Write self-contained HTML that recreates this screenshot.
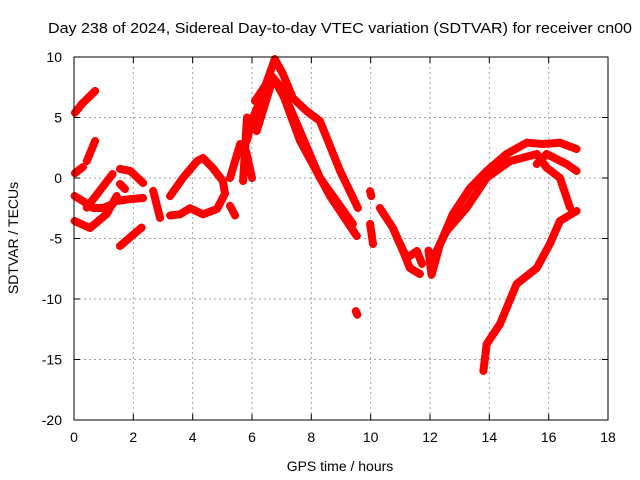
<!DOCTYPE html>
<html><head><meta charset="utf-8"><style>
body{margin:0;background:#fff}
svg{display:block;font-family:"Liberation Sans",sans-serif}
</style></head><body>
<svg id="chart" width="640" height="480">
<rect width="640" height="480" fill="#fff"/>
<text x="340" y="33" text-anchor="middle" font-size="15" textLength="584" lengthAdjust="spacingAndGlyphs">Day 238 of 2024, Sidereal Day-to-day VTEC variation (SDTVAR) for receiver cn00</text>
<g id="grid"></g>
<g id="marks"></g>
<rect x="74" y="57" width="534" height="363" fill="none" stroke="#000" stroke-width="1"/>
<g id="axes"></g>
<text x="340" y="471" text-anchor="middle" font-size="14">GPS time / hours</text>
<text transform="translate(18,238) rotate(-90)" text-anchor="middle" font-size="14">SDTVAR / TECUs</text>
</svg>
<script>
const xTicks=[0,2,4,6,8,10,12,14,16,18];
const yTicks=[10,5,0,-5,-10,-15,-20];
const tracks=[
[[0.03,5.4],[0.3,6.22]],
[[0.37,6.36],[0.71,7.19]],
[[0.43,1.4],[0.71,3.06]],
[[0.03,0.4],[0.3,0.9]],
[[0.43,-2.45],[1.3,0.33]],
[[0.02,-3.55],[0.54,-4.13],[1.1,-2.98],[1.44,-1.49]],
[[0.02,-1.49],[0.3,-1.9],[0.64,-2.48],[0.98,-2.48],[1.31,-2.15]],
[[1.55,-5.62],[2.28,-4.1]],
[[1.55,0.75],[1.9,0.58],[2.33,-0.41]],
[[1.55,-0.5],[1.72,-0.91]],
[[1.44,-1.9],[1.9,-1.74],[2.33,-1.65]],
[[2.67,-1.07],[2.9,-3.3]],
[[3.24,-1.5],[3.67,0],[4.15,1.4],[4.35,1.65],[4.68,0.83],[5.02,-0.25],[5.09,-1.3],[4.82,-2.56],[4.35,-3],[3.91,-2.5],[3.57,-3],[3.24,-3.1]],
[[5.26,0],[5.6,2.8]],
[[5.26,-2.3],[5.43,-3.1]],
[[5.7,-0.25],[5.83,5]],
[[5.8,2.2],[6,0]],
[[5.82,3.06],[6.03,4.96],[6.27,6.36],[6.77,9.83],[7.04,8.6],[7.38,6.6],[7.84,5.54],[8.29,4.71],[8.97,0.58],[9.57,-2.48]],
[[6.1,6.36],[6.66,8.43],[6.94,7.6],[7.62,3.06],[8.63,-1.49],[9.53,-4.79]],
[[6.16,3.88],[6.71,8.29],[7.28,5.81],[8.29,0.02],[9.4,-3.8]],
[[9.98,-1.1],[10.02,-1.5]],
[[9.98,-3.8],[10.08,-5.45]],
[[10.31,-2.48],[10.75,-4.13],[11.09,-6.03],[11.32,-7.44],[11.66,-7.93]],
[[10.89,-4.96],[11.22,-6.61],[11.56,-6.03],[11.73,-7.1]],
[[9.5,-11.0],[9.55,-11.3]],
[[11.95,-6.0],[12.05,-8.0]],
[[12.06,-7.93],[12.34,-5.45],[12.77,-2.98],[13.35,-0.83],[13.91,0.58],[14.58,1.98],[15.26,2.92],[15.81,2.81],[16.38,2.92],[16.94,2.4]],
[[12.1,-6.61],[12.56,-4.38],[13.24,-2.45],[13.91,0.02],[14.7,1.4],[15.6,1.98],[15.93,0.85],[16.38,0.02],[16.72,-2.45]],
[[15.6,1.16],[15.93,1.98],[16.6,1.16],[16.94,0.58]],
[[13.8,-15.95],[13.91,-13.72],[14.36,-12.07],[14.92,-8.76],[15.6,-7.44],[16.04,-5.45],[16.38,-3.55],[16.94,-2.73]]
];
const X0=74,X1=608,Y0=420,Y1=57;
function sx(t){return X0+(t-0)/(18-0)*(X1-X0);}
function sy(v){return Y0-(v+20)/(30)*(Y0-Y1);}
const NS="http://www.w3.org/2000/svg";
const grid=document.getElementById('grid'),axes=document.getElementById('axes'),marks=document.getElementById('marks');
function mk(tag,attrs,parent){const e=document.createElementNS(NS,tag);for(const k in attrs)e.setAttribute(k,attrs[k]);parent.appendChild(e);return e;}
xTicks.forEach(t=>{const x=sx(t);
 if(t>0&&t<18){const g=mk('line',{x1:x,x2:x,y1:Y1,y2:Y0,stroke:'#a0a0a0','stroke-dasharray':'2,3'},grid);
 
 }
 const tk=mk('path',{d:`M${x},${Y0}v-6M${x},${Y1}v6`,stroke:'#000'},axes);
 
 
 const l=mk('text',{x:x,y:442,'text-anchor':'middle','font-size':14},axes);l.textContent=t;
 
 });
yTicks.forEach(v=>{const y=sy(v);
 if(v>-20&&v<10){const g=mk('line',{x1:X0,x2:X1,y1:y,y2:y,stroke:'#a0a0a0','stroke-dasharray':'2,3'},grid);
 
 }
 const tk=mk('path',{d:`M${X0},${y}h6M${X1},${y}h-6`,stroke:'#000'},axes);
 
 
 const l=mk('text',{x:62,y:y+5,'text-anchor':'end','font-size':14},axes);l.textContent=v;
 
 });
tracks.forEach((tr,i)=>{
 const pts=tr.map(p=>sx(p[0]).toFixed(1)+','+sy(p[1]).toFixed(1)).join(' ');
 const pl=mk('polyline',{points:pts,fill:'none',stroke:'#ff0000','stroke-width':8,'stroke-linejoin':'round','stroke-linecap':'round'},marks);
 
 
 tr.forEach(p=>{const x=sx(p[0]),y=sy(p[1]);
  const m=mk('path',{d:`M${x-4},${y}h8M${x},${y-4}v8`,stroke:'#ff0000','stroke-width':1.5},marks);
  
  });
});
</script>
</body></html>
